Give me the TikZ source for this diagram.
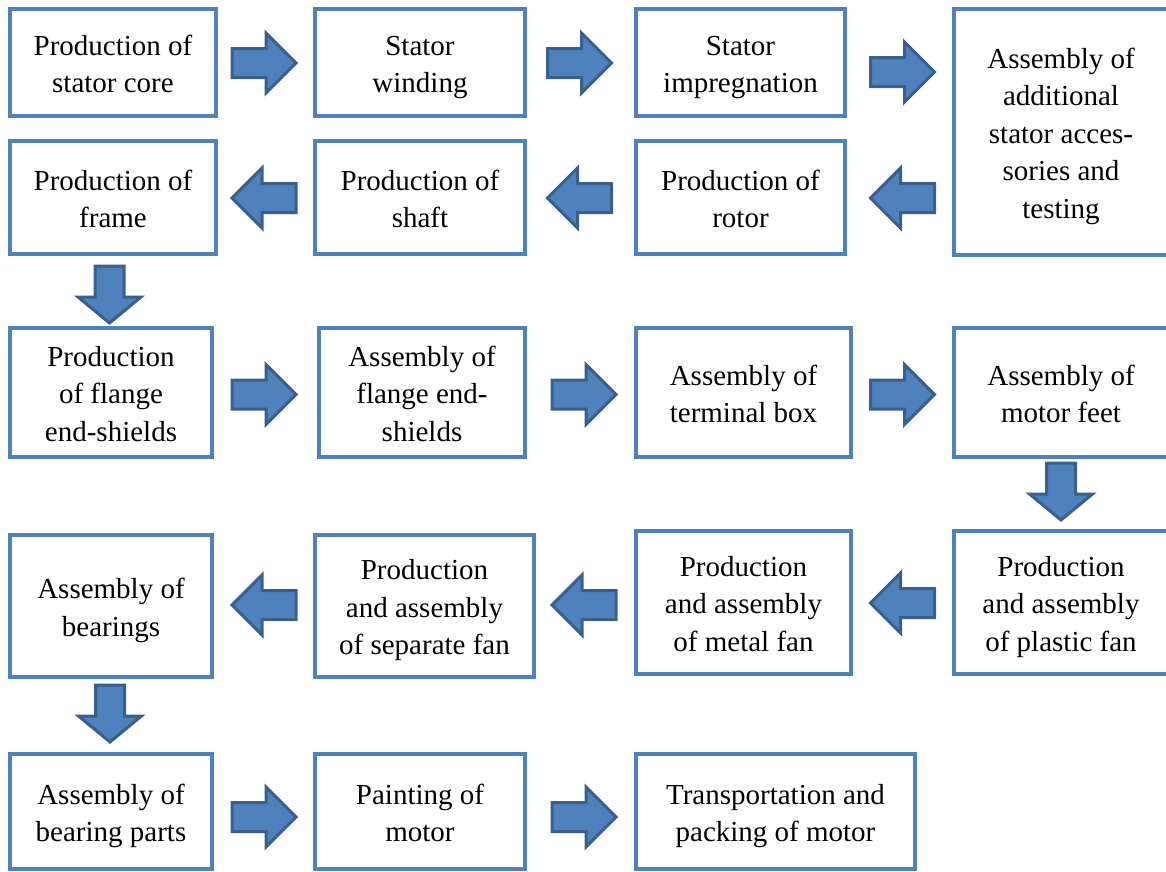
\documentclass[tikz,border=0pt]{standalone}
\usepackage{fontspec}
\setmainfont{Liberation Serif}
\usetikzlibrary{calc}
\definecolor{boxblue}{HTML}{4F81BD}
\definecolor{arrowedge}{HTML}{3A5F8B}
\newcommand\tstrut{\rule{0pt}{30pt}}
\newcommand\bstrut{\rule[-7.5pt]{0pt}{7.5pt}}
\tikzset{
  stepbox/.style={draw=boxblue, line width=4pt, fill=white, rectangle, align=center,
    inner sep=0pt, font=\fontsize{29}{37.5}\selectfont},
  arrowsty/.style={fill=boxblue, draw=arrowedge, line width=3pt, line join=miter},
  harrow/.pic={\filldraw[arrowsty] (-32,-14.5) -- (2,-14.5) -- (2,-30) -- (32,0) -- (2,30) -- (2,14.5) -- (-32,14.5) -- cycle;},
  varrow/.pic={\filldraw[arrowsty] (-28.5,-14.5) -- (2.5,-14.5) -- (2.5,-31.5) -- (28.5,0) -- (2.5,31.5) -- (2.5,14.5) -- (-28.5,14.5) -- cycle;}
}
\begin{document}
\begin{tikzpicture}[x=1pt,y=-1pt]
\useasboundingbox (0,0) rectangle (1166,871);
% row 1
\node[stepbox, minimum width=206, minimum height=107] (b1) at (113,62.5) {\tstrut Production of\\stator core\bstrut};
\node[stepbox, minimum width=210, minimum height=107] (b2) at (420,62.5) {\tstrut Stator\\winding\bstrut};
\node[stepbox, minimum width=209, minimum height=107] (b3) at (740.5,62.5) {\tstrut Stator\\impregnation\bstrut};
\node[stepbox, minimum width=214, minimum height=246] (b4) at (1061,132) {\tstrut Assembly of\\additional\\stator acces-\\sories and\\testing\bstrut};
% row 2
\node[stepbox, minimum width=206, minimum height=113] (b5) at (113,197.5) {\tstrut Production of\\frame\bstrut};
\node[stepbox, minimum width=210, minimum height=113] (b6) at (420,197.5) {\tstrut Production of\\shaft\bstrut};
\node[stepbox, minimum width=209, minimum height=113] (b7) at (740.5,197.5) {\tstrut Production of\\rotor\bstrut};
% row 3
\node[stepbox, minimum width=202, minimum height=129] (b8) at (111,392.5) {\tstrut Production\\of flange\\end-shields\bstrut};
\node[stepbox, minimum width=206, minimum height=129] (b9) at (422,392.5) {\tstrut Assembly of\\flange end-\\shields\bstrut};
\node[stepbox, minimum width=215, minimum height=129] (b10) at (743.5,392.5) {\tstrut Assembly of\\terminal box\bstrut};
\node[stepbox, minimum width=214, minimum height=129] (b11) at (1061,392.5) {\tstrut Assembly of\\motor feet\bstrut};
% row 4
\node[stepbox, minimum width=202, minimum height=142] (b12) at (111,606) {\tstrut Assembly of\\bearings\bstrut};
\node[stepbox, minimum width=219, minimum height=142] (b13) at (424.5,606) {\tstrut Production\\and assembly\\of separate fan\bstrut};
\node[stepbox, minimum width=215, minimum height=143] (b14) at (743.5,602.5) {\tstrut Production\\and assembly\\of metal fan\bstrut};
\node[stepbox, minimum width=214, minimum height=143] (b15) at (1061,602.5) {\tstrut Production\\and assembly\\of plastic fan\bstrut};
% row 5
\node[stepbox, minimum width=202, minimum height=115] (b16) at (111,811.5) {\tstrut Assembly of\\bearing parts\bstrut};
\node[stepbox, minimum width=210, minimum height=115] (b17) at (420,811.5) {\tstrut Painting of\\motor\bstrut};
\node[stepbox, minimum width=279, minimum height=115] (b18) at (775.5,811.5) {\tstrut Transportation and\\packing of motor\bstrut};
% arrows
\pic at (264,63) {harrow};
\pic at (579.5,63) {harrow};
\pic at (902.5,72) {harrow};
\pic[rotate=180] at (902.5,198) {harrow};
\pic[rotate=180] at (579.5,198) {harrow};
\pic[rotate=180] at (264,198) {harrow};
\pic[rotate=-90] at (109.5,294.5) {varrow};
\pic at (264,394.5) {harrow};
\pic at (584,394.5) {harrow};
\pic at (902.5,394.5) {harrow};
\pic[rotate=-90] at (1061,491.5) {varrow};
\pic[rotate=180] at (902.5,603) {harrow};
\pic[rotate=180] at (584,605) {harrow};
\pic[rotate=180] at (264,605) {harrow};
\pic[rotate=-90] at (110,713.5) {varrow};
\pic at (264,817) {harrow};
\pic at (584,817) {harrow};
\end{tikzpicture}
\end{document}
